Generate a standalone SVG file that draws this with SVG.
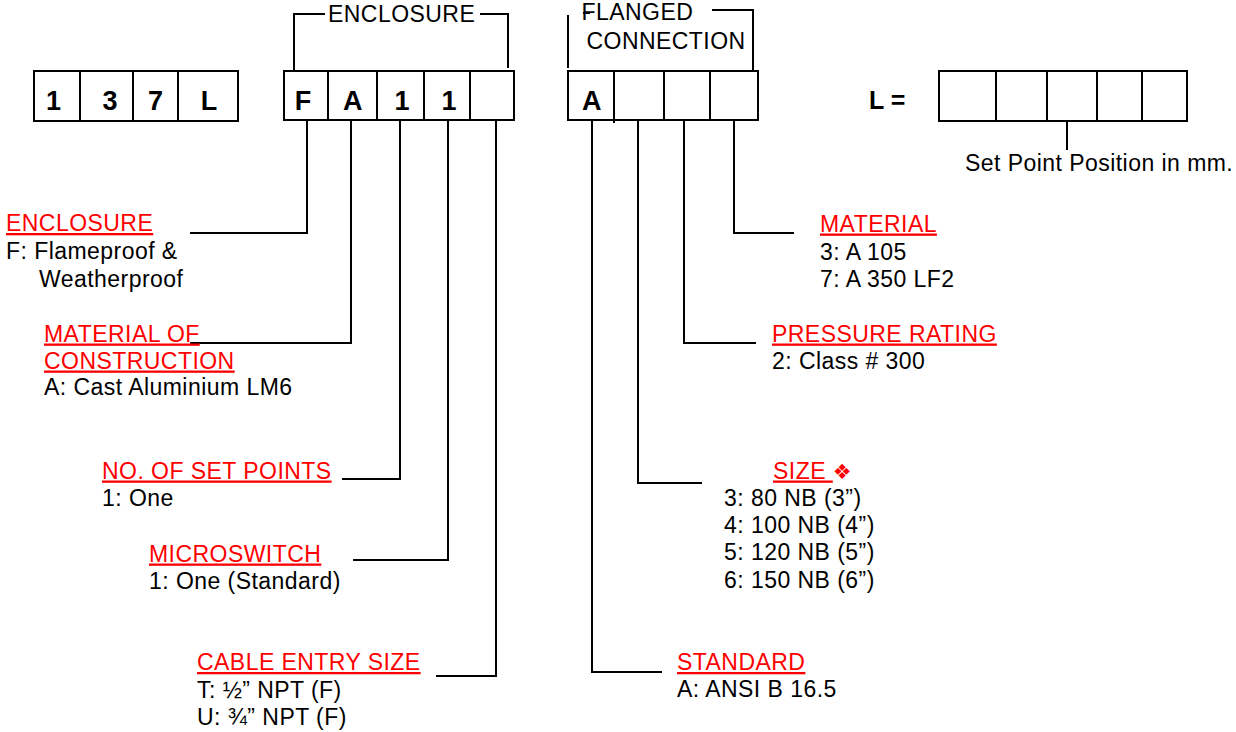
<svg xmlns="http://www.w3.org/2000/svg" width="1236" height="732" viewBox="0 0 1236 732">
<style>
.box{fill:none;stroke:#000;stroke-width:2}
.code{font-family:"Liberation Sans",Arial,sans-serif;font-weight:bold;font-size:27px;text-anchor:middle;fill:#000}
.t{font-family:"Liberation Sans",Arial,sans-serif;font-size:23px;letter-spacing:0.45px;fill:#000}
.h{fill:#f00;text-decoration:underline}
.c{fill:none;stroke:#000;stroke-width:2}
</style>
<rect width="1236" height="732" fill="#fff"/>
<g id="code-137L">
<rect class="box" x="34" y="71" width="204" height="50"/>
<path class="box" d="M80,71V121M133,71V121M178,71V121"/>
<text class="code" x="53.5" y="109.5">1</text>
<text class="code" x="110" y="109.5">3</text>
<text class="code" x="155.5" y="109.5">7</text>
<text class="code" x="209" y="109.5">L</text>
</g>
<g id="code-enclosure">
<rect class="box" x="284" y="71" width="230" height="49"/>
<path class="box" d="M328,71V120M377,71V120M424,71V120M470,71V120"/>
<text class="code" x="303" y="109.5">F</text>
<text class="code" x="352.7" y="109.5">A</text>
<text class="code" x="402" y="109.5">1</text>
<text class="code" x="449" y="109.5">1</text>
<path class="c" d="M294,70V14H325M480,14H508V68"/>
<text class="t" x="328" y="21.5">ENCLOSURE</text>
</g>
<g id="code-flanged">
<rect class="box" x="568" y="71" width="190" height="49"/>
<path class="box" d="M614,71V123M664,71V120M710,71V120"/>
<text class="code" x="591.7" y="109.5">A</text>
<path class="c" d="M568,68V15M583,13H590M712,10H753V70"/>
<text class="t" x="581.5" y="20">FLANGED</text>
<text class="t" x="586.5" y="48.5">CONNECTION</text>
</g>
<g id="code-length">
<text class="code" style="text-anchor:start;font-size:25px" x="869" y="109">L =</text>
<rect class="box" x="939" y="71" width="248" height="50"/>
<path class="box" d="M996,71V121M1047,71V121M1097,71V121M1142,71V121"/>
<text class="t" x="965" y="171">Set Point Position in mm.</text>
</g>
<g id="connectors">
<path class="c" d="M307,121V233H190"/>
<path class="c" d="M351,121V343H190"/>
<path class="c" d="M400,121V479H342"/>
<path class="c" d="M448,121V560H353"/>
<path class="c" d="M496,121V676H436"/>
<path class="c" d="M592,121V672H662"/>
<path class="c" d="M638,121V483H702"/>
<path class="c" d="M684,121V343H756"/>
<path class="c" d="M734,121V233H794"/>
<path class="c" d="M1067,121V150"/>
</g>
<g id="label-enclosure">
<text class="t h" x="6" y="231">ENCLOSURE</text>
<text class="t" x="6" y="259">F: Flameproof &amp;</text>
<text class="t" x="39" y="286.5">Weatherproof</text>
</g>
<g id="label-material-construction">
<text class="t h" x="44" y="341.5">MATERIAL OF</text>
<text class="t h" x="44" y="368.5">CONSTRUCTION</text>
<text class="t" x="44" y="395">A: Cast Aluminium LM6</text>
</g>
<g id="label-set-points">
<text class="t h" x="102" y="478.5">NO. OF SET POINTS</text>
<text class="t" x="102" y="505.5">1: One</text>
</g>
<g id="label-microswitch">
<text class="t h" x="149" y="561.5">MICROSWITCH</text>
<text class="t" x="149" y="588.5">1: One (Standard)</text>
</g>
<g id="label-cable-entry">
<text class="t h" x="197" y="670">CABLE ENTRY SIZE</text>
<text class="t" x="197" y="697.5">T: ½” NPT (F)</text>
<text class="t" x="197" y="725">U: ¾” NPT (F)</text>
</g>
<g id="label-material">
<text class="t h" x="820" y="231.5">MATERIAL</text>
<text class="t" x="820" y="259.5">3: A 105</text>
<text class="t" x="820" y="286.5">7: A 350 LF2</text>
</g>
<g id="label-pressure">
<text class="t h" x="772" y="341.5">PRESSURE RATING</text>
<text class="t" x="772" y="368.5">2: Class # 300</text>
</g>
<g id="label-size">
<text class="t" x="773" y="478.5"><tspan class="h">SIZE </tspan><tspan style="fill:#f00;font-family:'DejaVu Sans',sans-serif;font-size:21px">❖</tspan></text>
<text class="t" x="724" y="505.5">3: 80 NB (3”)</text>
<text class="t" x="724" y="532.5">4: 100 NB (4”)</text>
<text class="t" x="724" y="560">5: 120 NB (5”)</text>
<text class="t" x="724" y="587.5">6: 150 NB (6”)</text>
</g>
<g id="label-standard">
<text class="t h" x="677" y="670">STANDARD</text>
<text class="t" x="677" y="697">A: ANSI B 16.5</text>
</g>
</svg>
